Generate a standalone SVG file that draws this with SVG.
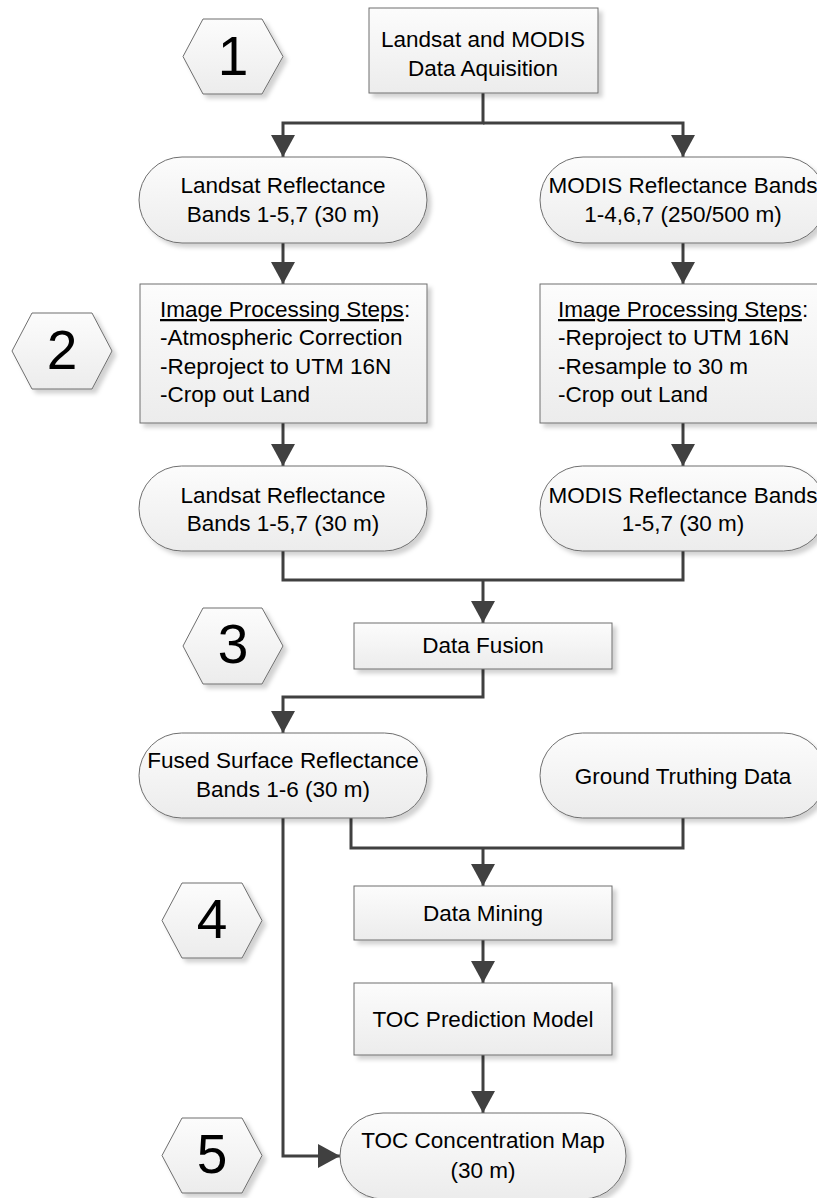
<svg xmlns="http://www.w3.org/2000/svg" width="817" height="1198" viewBox="0 0 817 1198">
<style>
.shape{fill:url(#g);stroke:#6e6e6e;stroke-width:1;filter:url(#sh)}
.t{font-family:"Liberation Sans",Arial,sans-serif;font-size:22.5px;fill:#000}
.c{text-anchor:middle}
.d{font-family:"Liberation Sans",Arial,sans-serif;font-size:55px;fill:#000;text-anchor:middle}
.con{fill:none;stroke:#404040;stroke-width:3}
.u{text-decoration:underline}
</style>
<defs>
<linearGradient id="g" x1="0" y1="0" x2="0" y2="1">
<stop offset="0" stop-color="#fcfcfc"/>
<stop offset="1" stop-color="#ececec"/>
</linearGradient>
<filter id="sh" x="-10%" y="-10%" width="125%" height="130%">
<feDropShadow dx="4" dy="4" stdDeviation="2" flood-color="#000" flood-opacity="0.18"/>
</filter>
<marker id="ah" markerUnits="userSpaceOnUse" markerWidth="22" markerHeight="24" viewBox="0 0 22 24" refX="22" refY="12" orient="auto">
<path d="M0,0 L22,12 L0,24 z" fill="#404040"/>
</marker>
</defs>

<g id="connectors">
<path class="con" d="M483,93 V123 H283 V157" marker-end="url(#ah)"/>
<path class="con" d="M483,123 H683 V157" marker-end="url(#ah)"/>
<path class="con" d="M283,243 V284" marker-end="url(#ah)"/>
<path class="con" d="M683,243 V284" marker-end="url(#ah)"/>
<path class="con" d="M283,423 V466" marker-end="url(#ah)"/>
<path class="con" d="M683,423 V466" marker-end="url(#ah)"/>
<path class="con" d="M283,551 V580 H683 V551"/>
<path class="con" d="M483,580 V623" marker-end="url(#ah)"/>
<path class="con" d="M483,669 V697 H283 V733" marker-end="url(#ah)"/>
<path class="con" d="M351,818 V848 H683 V818"/>
<path class="con" d="M483,848 V886" marker-end="url(#ah)"/>
<path class="con" d="M483,940 V983" marker-end="url(#ah)"/>
<path class="con" d="M483,1055 V1113" marker-end="url(#ah)"/>
<path class="con" d="M283,818 V1156 H340" marker-end="url(#ah)"/>
</g>

<g id="hex1">
<polygon class="shape" points="183,56.5 203,19 262,19 283,56.5 262,94 203,94"/>
<text class="d" x="233" y="75">1</text>
</g>
<g id="hex2">
<polygon class="shape" points="12,351 32,313 92,313 112,351 92,389 32,389"/>
<text class="d" x="62" y="369">2</text>
</g>
<g id="hex3">
<polygon class="shape" points="183,646 203,608 262,608 283,646 262,684 203,684"/>
<text class="d" x="233" y="663">3</text>
</g>
<g id="hex4">
<polygon class="shape" points="162,920.5 182,883 242,883 262,920.5 242,958 182,958"/>
<text class="d" x="212" y="938">4</text>
</g>
<g id="hex5">
<polygon class="shape" points="162,1155.5 182,1118 242,1118 262,1155.5 242,1193 182,1193"/>
<text class="d" x="212" y="1173">5</text>
</g>

<g id="acquisition">
<rect class="shape" x="369" y="8" width="229" height="85"/>
<text class="t c" x="483" y="47">Landsat and MODIS</text>
<text class="t c" x="483" y="76">Data Aquisition</text>
</g>

<g id="landsat_raw">
<rect class="shape" x="139" y="157" width="288" height="86" rx="43" ry="43"/>
<text class="t c" x="283" y="193">Landsat Reflectance</text>
<text class="t c" x="283" y="222">Bands 1-5,7 (30 m)</text>
</g>
<g id="modis_raw">
<rect class="shape" x="540" y="157" width="286" height="86" rx="43" ry="43"/>
<text class="t c" x="683" y="193">MODIS Reflectance Bands</text>
<text class="t c" x="683" y="222">1-4,6,7 (250/500 m)</text>
</g>

<g id="landsat_proc">
<rect class="shape" x="140" y="284" width="287" height="139"/>
<text class="t" x="160" y="317"><tspan class="u">Image Processing Steps</tspan>:</text>
<text class="t" x="160" y="345">-Atmospheric Correction</text>
<text class="t" x="160" y="374">-Reproject to UTM 16N</text>
<text class="t" x="160" y="402">-Crop out Land</text>
</g>
<g id="modis_proc">
<rect class="shape" x="540" y="284" width="286" height="139"/>
<text class="t" x="558" y="317"><tspan class="u">Image Processing Steps</tspan>:</text>
<text class="t" x="558" y="345">-Reproject to UTM 16N</text>
<text class="t" x="558" y="374">-Resample to 30 m</text>
<text class="t" x="558" y="402">-Crop out Land</text>
</g>

<g id="landsat_out">
<rect class="shape" x="139" y="466" width="288" height="85" rx="42.5" ry="42.5"/>
<text class="t c" x="283" y="503">Landsat Reflectance</text>
<text class="t c" x="283" y="531">Bands 1-5,7 (30 m)</text>
</g>
<g id="modis_out">
<rect class="shape" x="540" y="466" width="286" height="85" rx="42.5" ry="42.5"/>
<text class="t c" x="683" y="503">MODIS Reflectance Bands</text>
<text class="t c" x="683" y="531">1-5,7 (30 m)</text>
</g>

<g id="fusion">
<rect class="shape" x="354" y="623" width="258" height="46"/>
<text class="t c" x="483" y="653">Data Fusion</text>
</g>

<g id="fused">
<rect class="shape" x="139" y="733" width="288" height="85" rx="42.5" ry="42.5"/>
<text class="t c" x="283" y="768">Fused Surface Reflectance</text>
<text class="t c" x="283" y="797">Bands 1-6 (30 m)</text>
</g>
<g id="ground">
<rect class="shape" x="540" y="733" width="286" height="85" rx="42.5" ry="42.5"/>
<text class="t c" x="683" y="784">Ground Truthing Data</text>
</g>

<g id="mining">
<rect class="shape" x="354" y="886" width="258" height="54"/>
<text class="t c" x="483" y="921">Data Mining</text>
</g>
<g id="model">
<rect class="shape" x="354" y="983" width="258" height="72"/>
<text class="t c" x="483" y="1027">TOC Prediction Model</text>
</g>
<g id="map">
<rect class="shape" x="340" y="1113" width="286" height="86" rx="43" ry="43"/>
<text class="t c" x="483" y="1148">TOC Concentration Map</text>
<text class="t c" x="483" y="1178">(30 m)</text>
</g>
</svg>
